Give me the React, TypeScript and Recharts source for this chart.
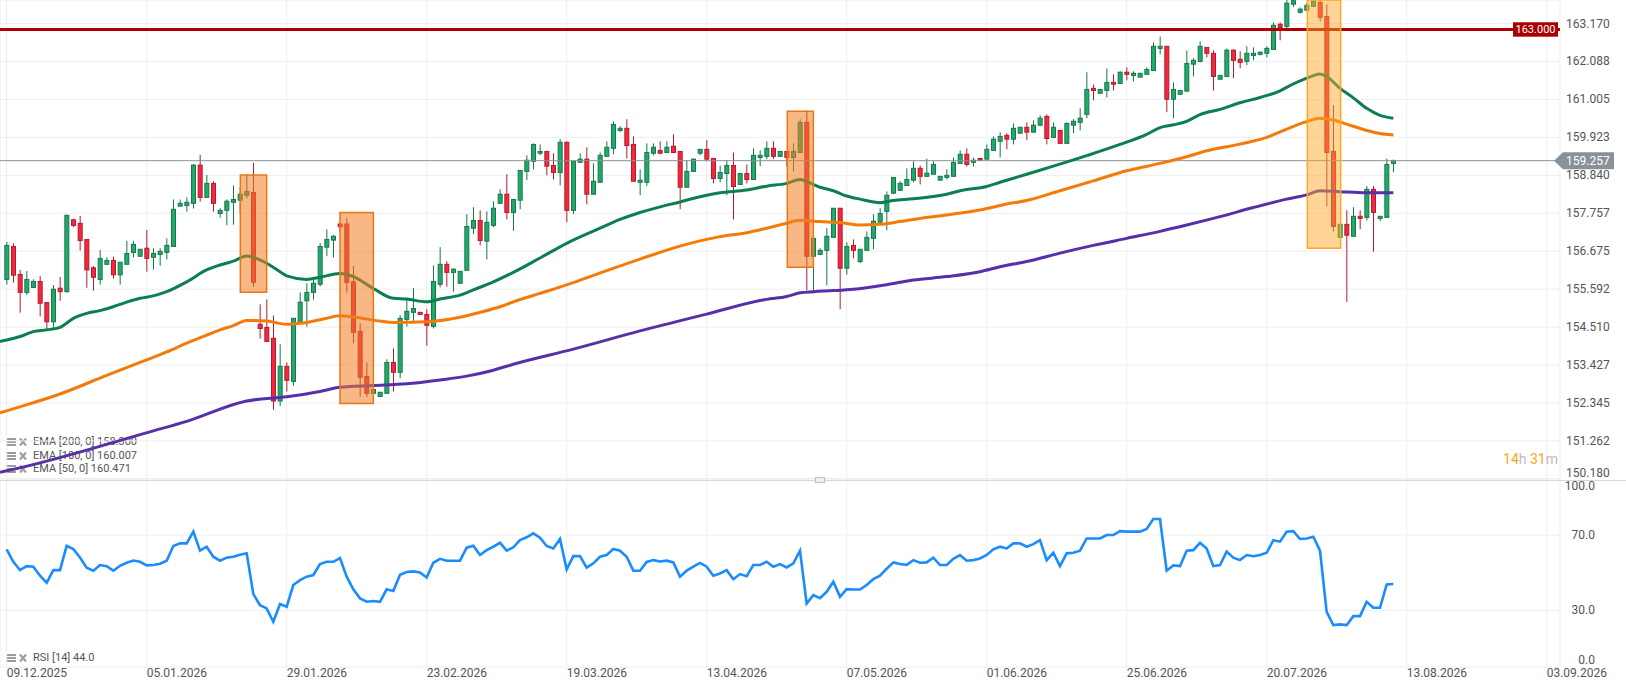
import React from 'react';
import {
  ComposedChart,
  Bar,
  Line,
  XAxis,
  YAxis,
  CartesianGrid,
  ReferenceLine,
  ReferenceArea,
} from 'recharts';

const dateLabels = [
  '09.12.2025', '05.01.2026', '29.01.2026', '23.02.2026', '19.03.2026', '13.04.2026',
  '07.05.2026', '01.06.2026', '25.06.2026', '20.07.2026', '13.08.2026', '03.09.2026',
];
const dateTicks = [0, 21, 42, 63, 84, 105, 126, 147, 168, 189, 210, 231];
const priceTicks = [
  150.18, 151.262, 152.345, 153.427, 154.51, 155.592, 156.675, 157.757, 158.84, 159.923, 161.005,
  162.088, 163.17,
];
const rsiTicks = [0, 30, 70, 100];

const open = [
  155.87, 156.81, 156.01, 155.5, 155.64, 155.81, 155.21, 154.66, 155.62, 155.52,
  157.57, 157.47, 157.01, 156.2, 155.87, 156.3, 156.41, 156.0, 156.3, 156.64,
  156.53, 156.76, 156.5, 156.58, 156.64, 156.81, 157.96, 157.98, 158.04, 159.13,
  158.21, 158.61, 157.75, 157.84, 158.07, 158.13, 158.27, 158.35, 154.59, 154.5,
  154.19, 152.4, 153.39, 152.96, 154.63, 155.26, 155.5, 155.73, 156.79, 156.99,
  157.45, 157.45, 155.8, 154.39, 153.1, 152.62, 152.53, 152.62, 153.5, 153.22,
  154.73, 154.93, 154.93, 154.87, 154.53, 155.73, 156.3, 156.07, 155.76, 156.13,
  157.33, 157.55, 156.96, 157.41, 158.04, 158.3, 157.78, 158.13, 158.95, 159.24,
  159.47, 159.52, 159.12, 158.92, 159.78, 157.84, 159.21, 159.3, 158.3, 158.64,
  159.38, 159.61, 160.12, 160.18, 159.72, 158.64, 158.64, 159.47, 159.55, 159.49,
  159.67, 159.52, 158.5, 158.95, 159.47, 159.58, 159.32, 158.75, 158.89, 159.12,
  158.58, 158.89, 158.72, 159.35, 159.38, 159.61, 159.38, 159.52, 159.35, 159.49,
  160.35, 156.53, 156.58, 156.7, 157.07, 157.9, 156.19, 156.84, 156.38, 156.7,
  157.04, 157.5, 157.81, 158.33, 158.41, 158.55, 158.7, 159.04, 158.81, 158.87,
  158.7, 158.78, 158.81, 159.18, 159.44, 159.21, 159.32, 159.3, 159.55, 159.81,
  159.98, 159.87, 160.04, 160.21, 160.07, 160.27, 160.52, 159.92, 160.12, 159.75,
  160.27, 160.35, 160.58, 161.32, 161.18, 161.26, 161.49, 161.46, 161.78, 161.69,
  161.64, 161.72, 161.83, 162.46, 162.52, 161.01, 161.15, 161.24, 162.01, 162.09,
  162.49, 162.32, 161.58, 161.66, 162.41, 162.15, 162.09, 162.26, 162.29, 162.32,
  162.43, 163.15, 163.09, 163.72, 163.49, 163.55, 163.66, 163.77, 163.37, 159.52,
  157.07, 157.44, 157.1, 157.67, 157.64, 158.44, 157.61, 157.64, 159.18,
];
const high = [
  156.94, 156.9, 156.14, 156.11, 155.87, 155.97, 155.21, 155.71, 155.94, 157.7,
  157.6, 157.68, 157.01, 156.25, 156.71, 156.5, 156.52, 156.36, 156.97, 156.97,
  156.73, 157.28, 156.76, 156.76, 157.04, 158.15, 158.15, 158.21, 159.16, 159.42,
  158.85, 158.67, 157.9, 158.15, 158.55, 158.5, 158.87, 159.19, 155.16, 155.3,
  154.84, 154.02, 153.5, 154.76, 155.5, 155.76, 155.93, 156.91, 157.3, 157.14,
  157.5, 157.61, 156.25, 154.62, 153.5, 153.62, 152.65, 153.59, 153.9, 154.85,
  155.28, 155.62, 154.93, 155.02, 156.27, 156.79, 156.39, 156.19, 156.1, 157.73,
  157.93, 157.84, 157.81, 158.1, 158.44, 158.87, 158.15, 158.98, 159.41, 159.75,
  159.72, 159.52, 159.47, 159.87, 159.81, 159.24, 159.47, 159.64, 159.18, 159.49,
  159.81, 160.38, 160.24, 160.44, 159.95, 159.01, 159.75, 159.75, 159.81, 159.81,
  160.01, 159.52, 159.27, 159.32, 159.58, 159.84, 159.32, 159.12, 159.27, 159.49,
  158.89, 159.15, 159.61, 159.55, 159.81, 159.81, 159.52, 159.52, 159.75, 160.44,
  160.69, 157.04, 156.76, 157.33, 157.9, 157.9, 156.93, 157.01, 156.73, 157.24,
  157.73, 157.9, 158.38, 158.78, 158.67, 159.04, 159.24, 159.12, 159.32, 159.24,
  158.81, 159.01, 159.35, 159.55, 159.61, 159.35, 159.32, 159.72, 159.95, 160.07,
  160.04, 160.32, 160.21, 160.35, 160.41, 160.55, 160.58, 160.35, 160.12, 160.35,
  160.44, 160.75, 161.78, 161.43, 161.29, 161.89, 161.72, 161.81, 161.92, 161.81,
  161.75, 161.92, 162.63, 162.8, 162.52, 161.49, 161.26, 162.4, 162.18, 162.66,
  162.49, 162.41, 161.69, 162.46, 162.43, 162.38, 162.52, 162.49, 162.38, 162.52,
  163.2, 163.2, 163.84, 163.84, 163.63, 163.75, 163.84, 163.84, 163.72, 160.84,
  157.44, 157.84, 157.93, 157.84, 158.53, 158.53, 157.67, 159.32, 159.29,
];
const low = [
  155.72, 155.78, 154.92, 155.43, 155.64, 154.81, 154.43, 154.49, 155.26, 155.49,
  157.36, 156.69, 155.63, 155.55, 155.72, 156.3, 155.89, 155.72, 156.3, 156.5,
  156.53, 156.09, 156.15, 156.26, 156.44, 156.81, 157.95, 157.8, 157.89, 158.09,
  158.21, 157.8, 157.63, 157.41, 157.43, 157.75, 158.18, 155.66, 154.18, 154.1,
  152.15, 152.25, 152.67, 152.84, 154.63, 154.52, 155.29, 155.67, 156.53, 156.5,
  157.2, 155.49, 154.05, 152.52, 152.52, 152.52, 152.53, 152.62, 152.67, 153.05,
  154.52, 154.66, 154.87, 153.98, 154.47, 155.64, 155.66, 155.52, 155.76, 156.13,
  157.16, 156.84, 156.44, 157.36, 158.04, 157.58, 157.26, 157.87, 158.7, 159.01,
  159.41, 158.84, 158.72, 158.55, 157.5, 157.73, 159.21, 158.01, 158.3, 158.64,
  159.38, 159.44, 160.07, 159.32, 158.67, 158.27, 158.53, 159.41, 159.44, 159.49,
  159.47, 157.87, 158.5, 158.95, 159.41, 159.24, 158.61, 158.64, 158.27, 157.58,
  158.58, 158.61, 158.72, 159.1, 159.3, 159.3, 159.38, 159.1, 158.95, 159.49,
  155.56, 155.47, 156.58, 155.7, 157.07, 155.02, 156.01, 156.47, 156.33, 156.7,
  156.73, 157.5, 157.27, 158.3, 158.41, 158.55, 158.64, 158.58, 158.81, 158.87,
  158.7, 158.72, 158.81, 159.18, 159.09, 159.09, 159.27, 159.3, 159.55, 159.35,
  159.58, 159.72, 160.04, 159.84, 160.07, 160.24, 159.72, 159.92, 159.75, 159.75,
  160.04, 160.12, 160.47, 160.98, 161.18, 161.06, 161.26, 161.46, 161.55, 161.52,
  161.64, 161.72, 161.83, 162.29, 160.64, 160.47, 161.15, 161.24, 161.66, 162.06,
  162.2, 161.26, 161.58, 161.66, 161.61, 161.89, 161.98, 162.12, 162.26, 162.2,
  162.43, 162.69, 163.0, 163.64, 163.46, 163.55, 163.66, 163.23, 157.95, 157.24,
  157.07, 155.23, 157.1, 157.3, 157.55, 156.66, 157.53, 157.64, 158.93,
];
const close = [
  156.84, 155.99, 155.5, 155.87, 155.81, 155.19, 154.66, 155.59, 155.52, 157.7,
  157.41, 156.98, 156.14, 155.93, 156.47, 156.41, 156.0, 156.36, 156.61, 156.87,
  156.73, 156.47, 156.61, 156.67, 156.84, 157.87, 158.04, 158.07, 159.13, 158.21,
  158.61, 158.04, 157.84, 158.1, 158.15, 158.3, 158.38, 155.79, 154.47, 154.1,
  152.4, 153.39, 152.99, 154.76, 155.22, 155.5, 155.76, 156.81, 157.01, 157.1,
  157.37, 155.78, 154.36, 153.08, 152.62, 152.73, 152.65, 153.5, 153.22, 154.76,
  154.96, 155.04, 154.87, 154.56, 155.81, 156.3, 156.07, 156.16, 156.1, 157.38,
  157.55, 156.98, 157.5, 157.9, 158.3, 157.78, 158.15, 158.98, 159.27, 159.72,
  159.52, 159.1, 158.92, 159.78, 157.84, 159.24, 159.3, 158.3, 158.67, 159.41,
  159.64, 160.29, 160.18, 159.69, 158.67, 158.7, 159.49, 159.64, 159.47, 159.64,
  159.49, 158.5, 158.95, 159.3, 159.58, 159.3, 158.75, 158.92, 159.12, 158.52,
  158.89, 158.72, 159.41, 159.41, 159.61, 159.38, 159.52, 159.35, 159.52, 160.35,
  156.53, 157.04, 156.7, 157.1, 157.9, 156.19, 156.81, 156.7, 156.73, 157.07,
  157.53, 157.75, 158.27, 158.78, 158.61, 158.72, 159.04, 158.81, 158.9, 159.15,
  158.81, 158.84, 159.21, 159.44, 159.15, 159.27, 159.27, 159.58, 159.87, 159.95,
  159.87, 160.18, 160.21, 160.07, 160.27, 160.47, 159.89, 160.21, 159.75, 160.32,
  160.38, 160.47, 161.29, 161.26, 161.29, 161.49, 161.44, 161.78, 161.72, 161.75,
  161.75, 161.86, 162.52, 162.52, 161.01, 161.29, 161.26, 162.03, 162.12, 162.52,
  162.32, 161.66, 161.69, 162.41, 162.12, 162.06, 162.32, 162.32, 162.35, 162.46,
  163.12, 163.06, 163.75, 163.82, 163.58, 163.69, 163.8, 163.35, 159.49, 157.38,
  157.44, 157.13, 157.67, 157.61, 158.44, 157.78, 157.67, 159.15, 159.257,
];
const rsi = [
  62.4, 55.8, 51.4, 53.5, 53.2, 48.4, 44.7, 51.4, 51.4, 64.3,
  62.6, 58.1, 52.7, 51.1, 54.1, 53.5, 51.1, 53.7, 55.3, 56.5,
  55.8, 53.9, 54.1, 54.8, 56.4, 64.2, 65.6, 65.6, 71.8, 61.7,
  63.8, 58.5, 56.4, 58.0, 58.5, 59.6, 60.3, 38.7, 32.8, 31.1,
  24.0, 33.4, 32.0, 43.5, 46.1, 47.9, 48.8, 54.6, 55.8, 55.8,
  57.8, 47.9, 41.2, 36.4, 34.6, 35.0, 34.6, 41.2, 40.3, 48.9,
  50.4, 50.7, 50.2, 47.5, 55.3, 57.4, 56.4, 56.4, 56.4, 63.3,
  64.3, 59.4, 62.0, 63.8, 65.9, 61.7, 63.5, 67.3, 68.8, 70.9,
  68.6, 64.2, 62.9, 67.9, 51.8, 58.8, 58.8, 52.7, 55.0, 58.5,
  59.4, 62.6, 61.7, 58.5, 51.1, 51.1, 55.7, 56.7, 56.0, 56.4,
  55.5, 47.9, 51.1, 53.2, 55.2, 53.2, 48.4, 49.6, 51.4, 46.6,
  49.3, 48.2, 54.1, 54.1, 55.8, 53.2, 54.6, 52.8, 55.0, 61.7,
  33.7, 38.1, 36.5, 39.9, 45.2, 37.2, 41.3, 41.1, 41.1, 43.5,
  46.6, 48.4, 52.1, 55.5, 54.6, 54.2, 56.7, 55.3, 55.5, 58.0,
  54.1, 54.1, 57.4, 59.4, 56.4, 56.7, 57.6, 59.4, 62.4, 63.8,
  62.9, 65.6, 65.6, 63.8, 65.2, 67.3, 56.7, 60.6, 53.5, 60.3,
  60.6, 61.7, 68.2, 68.2, 68.2, 70.0, 70.0, 72.1, 71.8, 71.8,
  71.8, 73.2, 78.5, 78.5, 51.1, 53.9, 53.5, 61.7, 62.0, 65.9,
  62.9, 53.5, 54.1, 61.2, 58.0, 56.7, 59.4, 58.8, 59.4, 60.6,
  67.3, 66.5, 71.8, 72.1, 67.9, 68.2, 69.1, 61.7, 29.3, 22.2,
  22.6, 22.2, 27.0, 27.0, 34.6, 31.4, 31.4, 43.8, 44.0,
];

// EMA readings, [bar index, value]; index -1 is where the line meets the left edge
const ema50Pts: [number, number][] = [
  [-1, 154.1], [0, 154.14], [2, 154.24], [4, 154.38], [6, 154.43], [8, 154.5], [10, 154.76], [12, 154.9],
  [14, 154.98], [16, 155.09], [18, 155.22], [20, 155.33], [22, 155.4], [24, 155.52], [27, 155.8],
  [30, 156.14], [32, 156.28], [34, 156.39], [36, 156.54], [37, 156.5], [39, 156.33], [41, 156.09],
  [42, 155.97], [45, 155.87], [47, 155.93], [50, 156.04], [52, 155.95], [55, 155.61], [58, 155.33],
  [60, 155.31], [63, 155.23], [65, 155.31], [68, 155.42], [70, 155.57], [73, 155.8], [76, 156.07],
  [80, 156.48], [84, 156.9], [89, 157.33], [92, 157.58], [95, 157.78], [98, 157.94], [101, 158.08],
  [104, 158.23], [107, 158.34], [111, 158.42], [114, 158.53], [117, 158.61], [119, 158.72],
  [120, 158.66], [122, 158.5], [124, 158.4], [126, 158.25], [128, 158.16], [131, 158.06],
  [133, 158.12], [136, 158.17], [141, 158.3], [143, 158.4], [147, 158.52], [149, 158.64],
  [153, 158.87], [157, 159.1], [162, 159.4], [167, 159.72], [171, 160.01], [173, 160.2],
  [175, 160.28], [177, 160.38], [179, 160.57], [182, 160.72], [185, 160.91], [188, 161.06],
  [191, 161.25], [192, 161.35], [195, 161.61], [197, 161.73], [198, 161.66], [200, 161.32],
  [202, 161.05], [204, 160.75], [206, 160.55], [208, 160.47],
];
const ema100Pts: [number, number][] = [
  [-1, 152.06], [0, 152.12], [8, 152.6], [15, 153.13], [20, 153.5], [24, 153.8], [27, 154.05], [30, 154.28],
  [32, 154.43], [34, 154.55], [36, 154.7], [39, 154.68], [42, 154.59], [45, 154.64], [48, 154.76],
  [50, 154.83], [52, 154.8], [56, 154.68], [58, 154.64], [63, 154.66], [68, 154.79], [71, 154.93],
  [74, 155.09], [76, 155.23], [80, 155.47], [85, 155.78], [90, 156.12], [95, 156.45], [101, 156.82],
  [104, 156.97], [107, 157.09], [111, 157.2], [114, 157.33], [117, 157.47], [119, 157.56],
  [122, 157.52], [125, 157.49], [128, 157.42], [131, 157.44], [134, 157.52], [137, 157.61],
  [141, 157.71], [146, 157.85], [150, 158.02], [153, 158.12], [158, 158.4], [163, 158.68],
  [168, 158.97], [173, 159.18], [177, 159.37], [180, 159.54], [185, 159.73], [189, 159.92],
  [192, 160.16], [195, 160.37], [197, 160.47], [199, 160.42], [201, 160.3], [204, 160.12],
  [206, 160.03], [208, 159.99],
];
const ema200Pts: [number, number][] = [
  [-1, 150.37], [0, 150.41], [22, 151.55], [27, 151.82], [36, 152.4], [42, 152.52], [47, 152.67], [50, 152.79],
  [55, 152.84], [60, 152.89], [65, 153.0], [69, 153.11], [73, 153.28], [76, 153.45], [85, 153.88],
  [95, 154.4], [105, 154.88], [114, 155.3], [117, 155.38], [119, 155.49], [121, 155.52],
  [124, 155.55], [127, 155.59], [132, 155.72], [136, 155.85], [141, 155.95], [146, 156.09],
  [149, 156.23], [153, 156.38], [158, 156.62], [163, 156.84], [168, 157.04], [173, 157.24],
  [177, 157.42], [182, 157.66], [187, 157.92], [192, 158.16], [195, 158.28], [197, 158.4],
  [200, 158.37], [204, 158.34], [208, 158.34],
];

// highlighted boxes: bar index range, price range
const boxX1 = [35.05, 50.0, 117.1, 195.1];
const boxX2 = [39.0, 55.0, 121.0, 200.1];
const boxLow = [155.5, 152.33, 156.22, 156.76];
const boxHigh = [158.85, 157.78, 160.67, 163.84];

const lastPrice = 159.257;
const alertLevel = 163.0;
const emaLegend = ['EMA [200, 0] 158.300', 'EMA [100, 0] 160.007', 'EMA [50, 0] 160.471'];
const rsiLegend = 'RSI [14] 44.0';

const FONT = 'Roboto, sans-serif';
const X_DOMAIN: [number, number] = [-1, 233];
const PRICE_DOMAIN: [number, number] = [150.147, 163.841];

const rows = close.map((c, i) => ({ i, o: open[i], h: high[i], l: low[i], c, rsi: rsi[i] }));
const toSeries = (pts: [number, number][]) => pts.map(([i, v]) => ({ i, v }));
const ema50Data = toSeries(ema50Pts);
const ema100Data = toSeries(ema100Pts);
const ema200Data = toSeries(ema200Pts);

const Candle = (props: any) => {
  const { x, y, width, height, payload } = props;
  if (!payload || x == null || y == null) return null;
  const { o, h, l, c } = payload;
  const top = Math.min(y, y + height);
  const hh = Math.abs(height);
  const span = h - l || 1;
  const toY = (v: number) => top + ((h - v) / span) * hh;
  const up = c >= o;
  const bTop = toY(Math.max(o, c));
  const bBot = toY(Math.min(o, c));
  const cx = x + width / 2;
  const stroke = up ? '#157a4a' : '#b41c2e';
  const fill = up ? '#22a86b' : '#f2283e';
  return (
    <g>
      <line x1={cx} x2={cx} y1={top} y2={top + hh} stroke={stroke} strokeWidth={1} />
      <rect
        x={x + 0.5}
        y={bTop}
        width={Math.max(width - 1, 1)}
        height={Math.max(bBot - bTop, 1)}
        fill={fill}
        stroke={stroke}
        strokeWidth={1}
      />
    </g>
  );
};

const PriceTick = (props: any) => {
  const { x, y, payload } = props;
  const last = payload.value === priceTicks[0];
  return (
    <text x={x} y={y} dy={last ? -1.5 : 4} fill="#555" fontSize={12} fontFamily={FONT} textAnchor="start">
      {Number(payload.value).toFixed(3)}
    </text>
  );
};

const RsiTick = (props: any) => {
  const { x, y, payload } = props;
  const v = payload.value;
  const dy = v === 100 ? 11.5 : v === 0 ? -3.5 : 4;
  return (
    <text x={x + 29} y={y} dy={dy} fill="#555" fontSize={12} fontFamily={FONT} textAnchor="end">
      {Number(v).toFixed(1)}
    </text>
  );
};

const DateTick = (props: any) => {
  const { x, y, payload } = props;
  const k = dateTicks.indexOf(payload.value);
  return (
    <text x={x} y={y} dy={10} fill="#555" fontSize={12} fontFamily={FONT} textAnchor="start">
      {dateLabels[k]}
    </text>
  );
};

const PriceTag = (props: any) => {
  const vb = props.viewBox;
  if (!vb) return null;
  const right = vb.x + vb.width;
  const y = vb.y;
  const tip = right - 6;
  return (
    <g>
      <polygon
        points={`${tip},${y} ${tip + 9},${y - 8.5} ${right + 54},${y - 8.5} ${right + 54},${y + 8.5} ${tip + 9},${y + 8.5}`}
        fill="#8a9198"
      />
      <text x={right + 6} y={y} dy={4.3} fill="#fff" fontSize={12} fontFamily={FONT}>
        {lastPrice.toFixed(3)}
      </text>
    </g>
  );
};

const AlertTag = (props: any) => {
  const vb = props.viewBox;
  if (!vb) return null;
  const right = vb.x + vb.width;
  const y = vb.y;
  return (
    <g>
      <rect x={right - 47} y={y - 7.2} width={45} height={14.4} fill="#a80000" />
      <text x={right - 24.5} y={y} dy={4} fill="#fff" fontSize={11} fontFamily={FONT} textAnchor="middle">
        {alertLevel.toFixed(3)}
      </text>
    </g>
  );
};

const LegendIcons = () => (
  <svg width={24} height={10} style={{ verticalAlign: 'middle', marginRight: 3 }}>
    <rect x={0} y={1} width={10} height={2} fill="#9b9b9b" />
    <rect x={0} y={4} width={10} height={2} fill="#9b9b9b" />
    <rect x={0} y={7} width={10} height={2} fill="#9b9b9b" />
    <path d="M14 1.5 L20 8.5 M20 1.5 L14 8.5" stroke="#9b9b9b" strokeWidth={2} />
  </svg>
);

const legendRow = (top: number): React.CSSProperties => ({
  position: 'absolute',
  left: 6,
  top,
  height: 14,
  lineHeight: '14px',
  fontSize: 11,
  color: '#555',
  whiteSpace: 'nowrap',
});

export default function App() {
  return (
    <div
      style={{
        position: 'absolute',
        left: 0,
        top: 0,
        width: 1626,
        height: 691,
        background: '#fff',
        overflow: 'hidden',
        fontFamily: FONT,
      }}
    >
      {emaLegend.map((t, k) => (
        <div key={t} style={legendRow(435 + k * 13.5)}>
          <LegendIcons />
          {t}
        </div>
      ))}
      <div style={legendRow(651)}>
        <LegendIcons />
        {rsiLegend}
      </div>

      <div style={{ position: 'absolute', left: 0, top: 0 }}>
        <ComposedChart width={1626} height={480} data={rows} margin={{ top: 0, right: 0, bottom: 0, left: 0 }}>
          <CartesianGrid stroke="#eeeeee" strokeWidth={1} />
          <XAxis dataKey="i" type="number" domain={X_DOMAIN} ticks={dateTicks} interval={0} hide allowDataOverflow />
          <YAxis
            orientation="right"
            width={66}
            domain={PRICE_DOMAIN}
            ticks={priceTicks}
            interval={0}
            allowDataOverflow
            tickLine={false}
            axisLine={false}
            tickSize={0}
            tickMargin={6}
            tick={<PriceTick />}
          />
          <ReferenceLine y={alertLevel} stroke="#b00000" strokeWidth={3} label={<AlertTag />} />
          <ReferenceLine y={lastPrice} stroke="#8a9198" strokeWidth={1} label={<PriceTag />} />
          <Bar dataKey={(d: any) => [d.l, d.h]} barSize={5} shape={<Candle />} activeBar={false} isAnimationActive={false} />
          <Line data={ema200Data} dataKey="v" type="monotone" stroke="#5530a8" strokeWidth={3} dot={false} activeDot={false} isAnimationActive={false} />
          <Line data={ema100Data} dataKey="v" type="monotone" stroke="#f47a0a" strokeWidth={3} dot={false} activeDot={false} isAnimationActive={false} />
          <Line data={ema50Data} dataKey="v" type="monotone" stroke="#0c7f4f" strokeWidth={3} dot={false} activeDot={false} isAnimationActive={false} />
          {boxX1.map((x1, k) => (
            <ReferenceArea
              key={k}
              x1={x1}
              x2={boxX2[k]}
              y1={boxLow[k]}
              y2={boxHigh[k]}
              fill={k === 3 ? '#ffa726' : '#f07d22'}
              fillOpacity={k === 3 ? 0.48 : 0.55}
              stroke={k === 3 ? '#ffa726' : '#ec7616'}
              strokeWidth={1.5}
              zIndex={1500}
            />
          ))}
        </ComposedChart>
      </div>

      <div
        style={{
          position: 'absolute',
          right: 68,
          top: 451,
          fontSize: 14,
          lineHeight: '17px',
          color: '#bdbdbd',
        }}
      >
        <span style={{ color: '#f5a623' }}>14</span>h <span style={{ color: '#f5a623' }}>31</span>m
      </div>

      <div style={{ position: 'absolute', left: 0, top: 478 }}>
        <ComposedChart width={1626} height={213} data={rows} margin={{ top: 0.5, right: 0, bottom: 0, left: 0 }}>
          <CartesianGrid stroke="#eeeeee" strokeWidth={1} />
          <XAxis
            dataKey="i"
            type="number"
            domain={X_DOMAIN}
            ticks={dateTicks}
            interval={0}
            allowDataOverflow
            height={24}
            tickLine={false}
            axisLine={false}
            tickSize={0}
            tickMargin={0}
            tick={<DateTick />}
          />
          <YAxis
            orientation="right"
            width={66}
            domain={[0, 100]}
            ticks={rsiTicks}
            interval={0}
            tickLine={false}
            axisLine={false}
            tickSize={0}
            tickMargin={6}
            tick={<RsiTick />}
          />
          <Line dataKey="rsi" type="linear" stroke="#1a8cff" strokeWidth={2.6} dot={false} activeDot={false} isAnimationActive={false} />
        </ComposedChart>
      </div>

      <div style={{ position: 'absolute', left: 0, top: 480, width: 1626, height: 1, background: '#d9d9d9' }} />
      <div
        style={{
          position: 'absolute',
          left: 815,
          top: 477,
          width: 8,
          height: 4,
          border: '1px solid #bdbdbd',
          background: '#f2f2f2',
        }}
      />
    </div>
  );
}
